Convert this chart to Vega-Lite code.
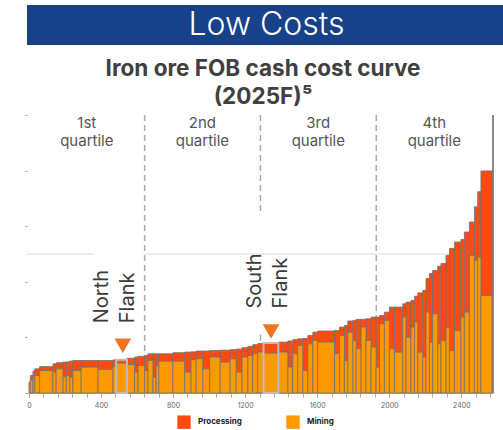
{
  "$schema": "https://vega.github.io/schema/vega-lite/v6.json",
  "padding": {"left": 24, "top": 5, "right": 0, "bottom": 0},
  "background": "white",
  "bounds": "flush",
  "spacing": 70,
  "config": {"view": {"stroke": null}, "font": "Inter"},
  "datasets": {
    "bars": [
      {"x0":0,"x1":7,"total":0.39,"mining":0.27},
      {"x0":7,"x1":22,"total":0.63,"mining":0.45},
      {"x0":22,"x1":32,"total":0.79,"mining":0.59},
      {"x0":32,"x1":59,"total":0.87,"mining":0.63},
      {"x0":59,"x1":133,"total":0.95,"mining":0.81},
      {"x0":133,"x1":151,"total":1.05,"mining":0.75},
      {"x0":151,"x1":189,"total":1.09,"mining":0.87},
      {"x0":189,"x1":207,"total":1.11,"mining":0.59},
      {"x0":207,"x1":226,"total":1.12,"mining":0.63},
      {"x0":226,"x1":244,"total":1.15,"mining":0.57},
      {"x0":244,"x1":290,"total":1.17,"mining":0.81},
      {"x0":290,"x1":383,"total":1.17,"mining":0.93},
      {"x0":383,"x1":466,"total":1.17,"mining":0.85},
      {"x0":466,"x1":484,"total":1.19,"mining":0.95},
      {"x0":484,"x1":544,"total":1.20,"mining":1.07},
      {"x0":544,"x1":586,"total":1.25,"mining":1.02},
      {"x0":586,"x1":605,"total":1.29,"mining":0.75},
      {"x0":605,"x1":642,"total":1.32,"mining":0.99},
      {"x0":642,"x1":660,"total":1.35,"mining":0.81},
      {"x0":660,"x1":688,"total":1.41,"mining":1.17},
      {"x0":688,"x1":706,"total":1.41,"mining":0.57},
      {"x0":706,"x1":721,"total":1.41,"mining":0.99},
      {"x0":721,"x1":799,"total":1.41,"mining":1.14},
      {"x0":799,"x1":864,"total":1.45,"mining":1.14},
      {"x0":864,"x1":900,"total":1.47,"mining":0.75},
      {"x0":900,"x1":928,"total":1.48,"mining":1.20},
      {"x0":928,"x1":965,"total":1.51,"mining":1.23},
      {"x0":965,"x1":1003,"total":1.51,"mining":0.87},
      {"x0":1003,"x1":1061,"total":1.53,"mining":1.29},
      {"x0":1061,"x1":1117,"total":1.54,"mining":1.11},
      {"x0":1117,"x1":1150,"total":1.56,"mining":1.23},
      {"x0":1150,"x1":1183,"total":1.58,"mining":0.75},
      {"x0":1183,"x1":1215,"total":1.63,"mining":1.29},
      {"x0":1215,"x1":1243,"total":1.68,"mining":1.35},
      {"x0":1243,"x1":1270,"total":1.74,"mining":1.41},
      {"x0":1270,"x1":1302,"total":1.78,"mining":1.47},
      {"x0":1302,"x1":1384,"total":1.80,"mining":1.43},
      {"x0":1384,"x1":1437,"total":1.83,"mining":1.47},
      {"x0":1437,"x1":1465,"total":1.87,"mining":0.93},
      {"x0":1465,"x1":1492,"total":1.92,"mining":1.41},
      {"x0":1492,"x1":1520,"total":1.95,"mining":1.71},
      {"x0":1520,"x1":1548,"total":1.96,"mining":0.81},
      {"x0":1548,"x1":1576,"total":2.07,"mining":1.77},
      {"x0":1576,"x1":1603,"total":2.19,"mining":1.89},
      {"x0":1603,"x1":1696,"total":2.23,"mining":1.83},
      {"x0":1696,"x1":1724,"total":2.25,"mining":1.41},
      {"x0":1724,"x1":1751,"total":2.37,"mining":2.07},
      {"x0":1751,"x1":1770,"total":2.43,"mining":1.17},
      {"x0":1770,"x1":1798,"total":2.59,"mining":2.19},
      {"x0":1798,"x1":1816,"total":2.61,"mining":1.89},
      {"x0":1816,"x1":1844,"total":2.65,"mining":1.59},
      {"x0":1844,"x1":1871,"total":2.65,"mining":2.37},
      {"x0":1871,"x1":1899,"total":2.67,"mining":1.89},
      {"x0":1899,"x1":1927,"total":2.73,"mining":1.65},
      {"x0":1927,"x1":1946,"total":2.73,"mining":0.93},
      {"x0":1946,"x1":1973,"total":2.79,"mining":2.49},
      {"x0":1973,"x1":2001,"total":2.91,"mining":2.61},
      {"x0":2001,"x1":2029,"total":3.09,"mining":1.59},
      {"x0":2029,"x1":2075,"total":3.09,"mining":1.47},
      {"x0":2075,"x1":2093,"total":3.21,"mining":2.73},
      {"x0":2093,"x1":2121,"total":3.27,"mining":2.01},
      {"x0":2121,"x1":2140,"total":3.33,"mining":2.37},
      {"x0":2140,"x1":2158,"total":3.48,"mining":2.55},
      {"x0":2158,"x1":2186,"total":3.60,"mining":1.47},
      {"x0":2186,"x1":2204,"total":3.69,"mining":1.29},
      {"x0":2204,"x1":2223,"total":4.12,"mining":2.91},
      {"x0":2223,"x1":2241,"total":4.30,"mining":1.83},
      {"x0":2241,"x1":2269,"total":4.41,"mining":2.85},
      {"x0":2269,"x1":2287,"total":4.56,"mining":1.77},
      {"x0":2287,"x1":2315,"total":4.66,"mining":1.89},
      {"x0":2315,"x1":2334,"total":4.95,"mining":2.37},
      {"x0":2334,"x1":2362,"total":5.20,"mining":1.53},
      {"x0":2362,"x1":2398,"total":5.43,"mining":2.25},
      {"x0":2398,"x1":2417,"total":5.52,"mining":2.73},
      {"x0":2417,"x1":2445,"total":5.79,"mining":2.91},
      {"x0":2445,"x1":2473,"total":6.15,"mining":4.95},
      {"x0":2473,"x1":2491,"total":6.70,"mining":4.77},
      {"x0":2491,"x1":2509,"total":7.24,"mining":4.89},
      {"x0":2509,"x1":2571,"total":7.99,"mining":3.51}
    ],
    "highlights": [
      {"x0":484,"x1":544,"total":1.20},
      {"x0":1302,"x1":1384,"total":1.80}
    ],
    "dashes": [
      {"x":642,"y":10,"y2":1.33},
      {"x":1285,"y":10,"y2":6.45},
      {"x":1285,"y":2.1,"y2":1.79},
      {"x":1928,"y":10,"y2":2.73}
    ],
    "quartiles": [
      {"x":321,"label":"1st\nquartile"},
      {"x":963,"label":"2nd\nquartile"},
      {"x":1606,"label":"3rd\nquartile"},
      {"x":2250,"label":"4th\nquartile"}
    ],
    "markers": [
      {"x":521,"y":1.70},
      {"x":1344,"y":2.21}
    ],
    "mines": [
      {"x":349,"y":2.51,"label":"North\nFlank"},
      {"x":1198,"y":3.04,"label":"South\nFlank"}
    ],
    "grid": [{"x":-11,"x2":361,"y":5}, {"x":642,"x2":2576,"y":5}],
    "edge": [{"x":2576,"y":0,"y2":10}]
  },
  "vconcat": [
    {
      "width": 479,
      "height": 40,
      "view": {"fill": "#17428A", "stroke": null},
      "data": {"values": [{"t": "Low Costs"}]},
      "mark": {"type": "text", "color": "white", "fontSize": 32, "fontWeight": 300, "font": "Inter", "baseline": "middle"},
      "encoding": {"text": {"field": "t"}}
    },
    {
      "width": 466,
      "height": 278,
      "title": {
        "text": ["Iron ore FOB cash cost curve", "(2025F)⁵"],
        "fontSize": 22.5,
        "lineHeight": 27.5,
        "font": "Inter",
        "fontWeight": "bold",
        "color": "#404040",
        "anchor": "middle",
        "offset": 6,
        "dx": 3
      },
      "resolve": {"axis": {"x": "independent"}},
      "layer": [
        {
          "data": {"name": "grid"},
          "mark": {"type": "rule", "color": "#dddddd", "strokeWidth": 1},
          "encoding": {
            "x": {"field": "x", "type": "quantitative", "scale": {"domain": [-11, 2576], "nice": false, "zero": false},
              "axis": {"title": null, "orient": "bottom", "values": [0, 400, 800, 1200, 1600, 2000, 2400], "format": "d",
                "labelFontSize": 7, "labelColor": "#666666", "labelFlush": false, "labelOverlap": false,
                "tickColor": "#aaaaaa", "tickSize": 4, "domainColor": "#aaaaaa", "labelPadding": 4, "grid": false, "labelFont": "Inter"}},
            "x2": {"field": "x2"},
            "y": {"field": "y", "type": "quantitative", "scale": {"domain": [0, 10], "nice": false},
              "axis": {"title": null, "labels": false, "domain": false, "grid": false, "ticks": true, "tickSize": 2, "tickColor": "#999999", "values": [0,1,2,3,4,5,6,7,8,9,10]}}
          }
        },
        {
          "data": {"name": "dashes"},
          "mark": {"type": "rule", "color": "#aaaaaa", "strokeWidth": 1.5, "strokeDash": [6, 4]},
          "encoding": {
            "x": {"field": "x", "type": "quantitative",
              "axis": {"title": null, "orient": "bottom", "values": [0,80,160,240,320,400,480,560,640,720,800,880,960,1040,1120,1200,1280,1360,1440,1520,1600,1680,1760,1840,1920,2000,2080,2160,2240,2320,2400,2480,2560],
                "labels": false, "domain": false, "grid": false, "tickColor": "#aaaaaa", "tickSize": 4}},
            "y": {"field": "y", "type": "quantitative"},
            "y2": {"field": "y2"}
          }
        },
        {
          "data": {"name": "bars"},
          "mark": {"type": "rect", "stroke": "#707070", "strokeWidth": 0.8},
          "encoding": {
            "x": {"field": "x0", "type": "quantitative", "axis": null},
            "x2": {"field": "x1"},
            "y": {"field": "total", "type": "quantitative"},
            "y2": {"field": "mining"},
            "color": {"datum": "Processing", "type": "nominal",
              "scale": {"domain": ["Processing", "Mining"], "range": ["#FF4A12", "#FF9900"]},
              "legend": {"orient": "none", "legendX": 150, "legendY": 410, "direction": "horizontal", "title": null,
                "symbolType": "square", "symbolSize": 180, "symbolStrokeWidth": 0, "labelFontSize": 8, "labelFontWeight": "bold",
                "labelFont": "Inter", "labelColor": "#222222", "columnPadding": 44, "labelOffset": 7}}
          }
        },
        {
          "data": {"name": "bars"},
          "mark": {"type": "rect", "stroke": "#707070", "strokeWidth": 0.8},
          "encoding": {
            "x": {"field": "x0", "type": "quantitative", "axis": null},
            "x2": {"field": "x1"},
            "y": {"field": "mining", "type": "quantitative"},
            "y2": {"datum": 0},
            "color": {"datum": "Mining", "type": "nominal"}
          }
        },
        {
          "data": {"name": "highlights"},
          "mark": {"type": "rect", "fillOpacity": 0, "stroke": "#BDBDBD", "strokeWidth": 2},
          "encoding": {
            "x": {"field": "x0", "type": "quantitative", "axis": null},
            "x2": {"field": "x1"},
            "y": {"field": "total", "type": "quantitative"},
            "y2": {"datum": 0}
          }
        },
        {
          "data": {"name": "edge"},
          "mark": {"type": "rule", "color": "#666666", "strokeWidth": 1.5},
          "encoding": {
            "x": {"field": "x", "type": "quantitative", "axis": null},
            "y": {"field": "y", "type": "quantitative"},
            "y2": {"field": "y2"}
          }
        },
        {
          "data": {"name": "markers"},
          "mark": {"type": "point", "shape": "triangle-down", "filled": true, "size": 280, "color": "#EE7623", "opacity": 1},
          "encoding": {
            "x": {"field": "x", "type": "quantitative", "axis": null},
            "y": {"field": "y", "type": "quantitative"}
          }
        },
        {
          "data": {"name": "quartiles"},
          "mark": {"type": "text", "fontSize": 15, "font": "Inter", "color": "#555555", "lineBreak": "\n", "lineHeight": 18, "baseline": "middle", "align": "center"},
          "encoding": {
            "x": {"field": "x", "type": "quantitative", "axis": null},
            "y": {"datum": 9.7},
            "text": {"field": "label"}
          }
        },
        {
          "data": {"name": "mines"},
          "mark": {"type": "text", "fontSize": 20, "font": "Inter", "color": "#3a3a3a", "lineBreak": "\n", "lineHeight": 26, "baseline": "top", "align": "left", "angle": 270},
          "encoding": {
            "x": {"field": "x", "type": "quantitative", "axis": null},
            "y": {"field": "y", "type": "quantitative"},
            "text": {"field": "label"}
          }
        }
      ]
    }
  ]
}
